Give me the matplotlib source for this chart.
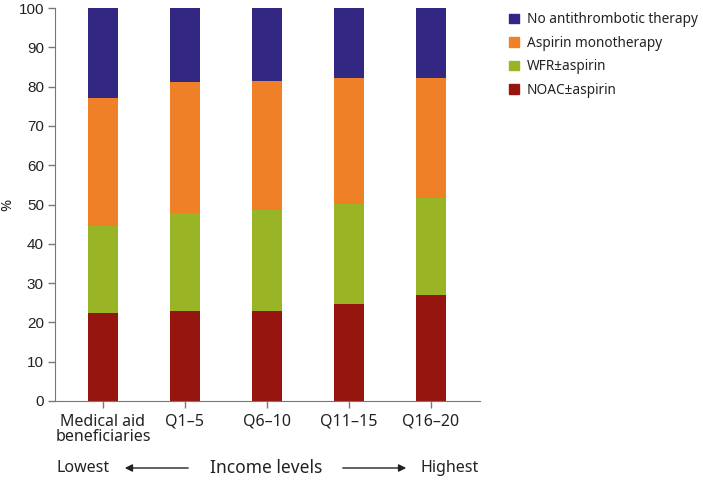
import numpy as np
import matplotlib.pyplot as plt
from matplotlib.patches import Patch

# data
groups = ['Medical aid\nbeneficiaries', 'Q1\u20135', 'Q6\u201310', 'Q11\u201315', 'Q16\u201320']
noac = [22.4, 22.8, 23.0, 24.7, 27.0]
wfr = [22.1, 25.1, 25.7, 25.5, 24.7]
aspirin = [32.5, 33.2, 32.7, 32.1, 30.6]
no_tx = [23.0, 18.9, 18.6, 17.7, 17.7]

series = [noac, wfr, aspirin, no_tx]
names = ['NOAC\u00b1aspirin', 'WFR\u00b1aspirin', 'Aspirin monotherapy', 'No antithrombotic therapy']
colors = ['#96160F', '#99B425', '#EF8027', '#322782']

label_font = ['Noto Sans', 'DejaVu Sans']

fig = plt.figure(figsize=(7.03, 4.8), dpi=100)
ax = fig.add_axes([55/703, 1-401/480, 425/703, 393/480])

x = np.arange(len(groups))
bottom = np.zeros(len(groups))
for vals, c in zip(series, colors):
    ax.bar(x, vals, 0.36, bottom=bottom, color=c, linewidth=0)
    bottom += np.array(vals)

ax.set_xlim(-0.585, 4.6)
ax.set_ylim(0, 100)
ax.set_yticks(range(0, 101, 10))
ax.set_yticklabels([str(v) for v in range(0, 101, 10)])
for t in ax.get_yticklabels():
    t.set_fontfamily('Liberation Sans')
    t.set_fontsize(11)
    t.set_color('#222222')
ax.set_xticks(x)
ax.set_xticklabels(groups, linespacing=0.95)
for t in ax.get_xticklabels():
    t.set_fontfamily(label_font)
    t.set_fontsize(11.5)
    t.set_color('#222222')
ax.tick_params(axis='both', direction='out', length=5, color='#777777', width=1)
ax.tick_params(axis='x', pad=4)
ax.tick_params(axis='y', pad=3)
for s in ['top', 'right']:
    ax.spines[s].set_visible(False)
for s in ['left', 'bottom']:
    ax.spines[s].set_color('#777777')
ax.set_ylabel('%', family=label_font, fontsize=10.5, color='#222222', labelpad=2)

# income level annotation
fig.text(56/703, 1-468/480, 'Lowest', family=label_font, fontsize=11.5, va='center', ha='left', color='#222222')
fig.text(266/703, 1-468/480, 'Income levels', family=label_font, fontsize=12.5, va='center', ha='center', color='#222222')
fig.text(479/703, 1-468/480, 'Highest', family=label_font, fontsize=11.5, va='center', ha='right', color='#222222')
ax.annotate('', xy=(122/703, 1-468/480), xytext=(191/703, 1-468/480), xycoords='figure fraction',
            arrowprops=dict(arrowstyle='-|>', color='#222222', lw=1, mutation_scale=11))
ax.annotate('', xy=(409/703, 1-468/480), xytext=(340/703, 1-468/480), xycoords='figure fraction',
            arrowprops=dict(arrowstyle='-|>', color='#222222', lw=1, mutation_scale=11))

# legend
handles = [Patch(color=c, label=n) for c, n in zip(colors[::-1], names[::-1])]
fig.legend(handles=handles, loc='upper left', bbox_to_anchor=(497/703, 1-0/480), frameon=False,
           prop={'family': label_font, 'size': 9.8}, handlelength=0.7, handleheight=0.7,
           handletextpad=0.6, labelspacing=0.62, labelcolor='#222222')

fig.savefig('out.png', dpi=100)
